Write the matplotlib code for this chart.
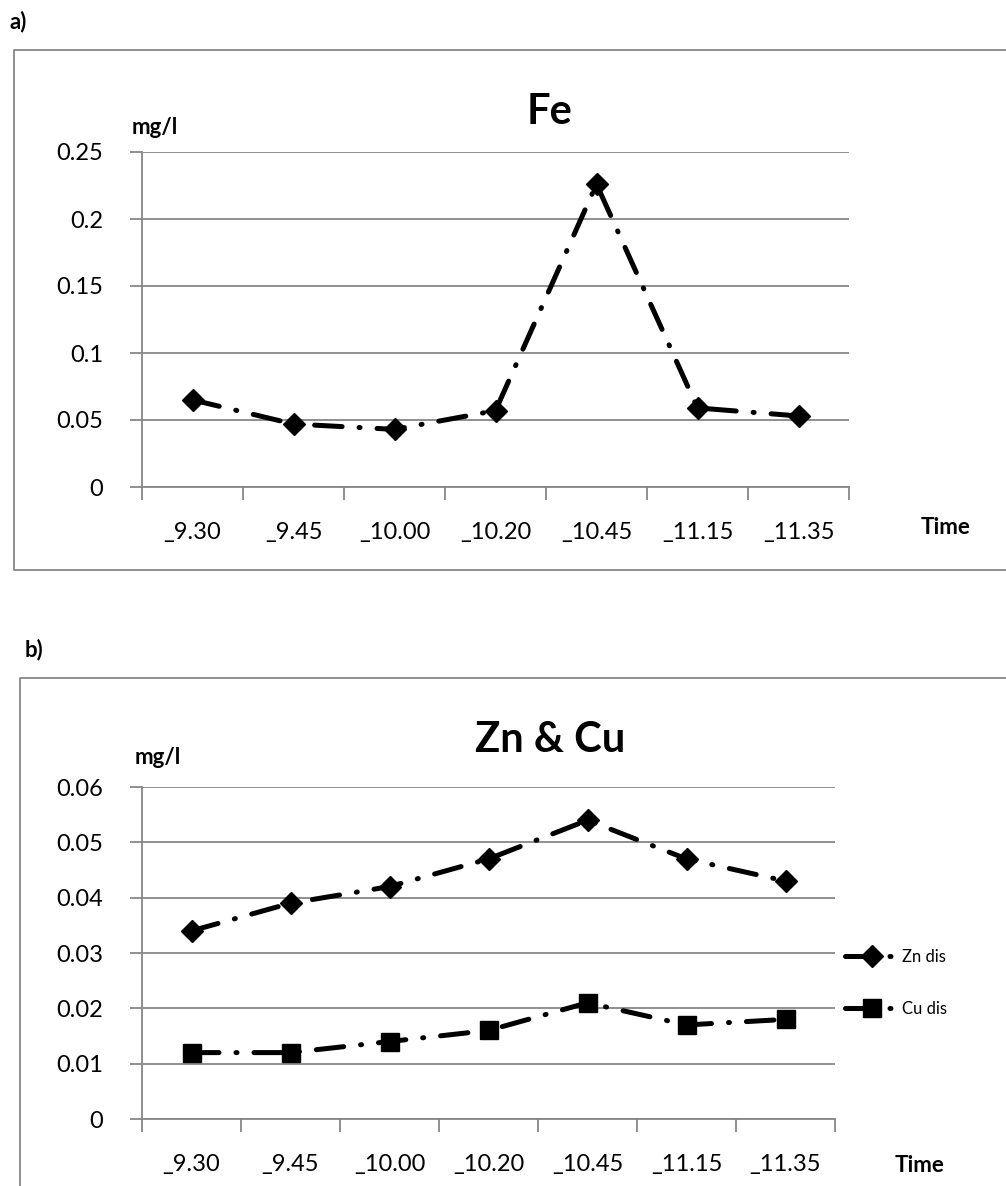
import matplotlib
matplotlib.use("Agg")
from matplotlib import pyplot as plt
from matplotlib.lines import Line2D
import numpy as np

times = ["_9.30", "_9.45", "_10.00", "_10.20", "_10.45", "_11.15", "_11.35"]
fe = [0.065, 0.047, 0.043, 0.057, 0.226, 0.059, 0.053]
zn_dis = [0.034, 0.039, 0.042, 0.047, 0.054, 0.047, 0.043]
cu_dis = [0.012, 0.012, 0.014, 0.016, 0.021, 0.017, 0.018]

W, H = 1006, 1186
GREY = "#878787"
plt.rcParams["font.family"] = ["Lato", "DejaVu Sans"]

fig = plt.figure(figsize=(W / 100, H / 100), dpi=100)


def px_axes(x0, x1, y_top, y_bot):
    return fig.add_axes([x0 / W, 1 - y_bot / H, (x1 - x0) / W, (y_bot - y_top) / H])


def frame_line(xs, ys):
    fig.add_artist(Line2D([x / W for x in xs], [1 - y / H for y in ys],
                          color=GREY, lw=1.3, transform=fig.transFigure))


dashdot = (0, (5.5, 3.4, 0.2, 3.4))


def style_axes(ax, ymax, ystep):
    n = len(times)
    ax.set_xlim(-0.5, n - 0.5)
    ax.set_ylim(0, ymax)
    yt = np.arange(0, ymax + ystep / 2, ystep)
    ax.set_yticks(yt)
    ax.set_yticklabels(["%g" % round(v, 4) for v in yt])
    ax.set_xticks(range(n))
    ax.set_xticklabels(times)
    ax.set_xticks(np.arange(-0.5, n), minor=True)
    ax.tick_params(axis="x", which="major", length=0, pad=25, labelsize=17)
    ax.tick_params(axis="x", which="minor", length=9, width=1.3, color=GREY, direction="out")
    ax.tick_params(axis="y", length=9, width=1.3, color=GREY, pad=19, labelsize=17)
    ax.grid(axis="y", color=GREY, lw=1.3)
    ax.set_axisbelow(True)
    for s in ("top", "right"):
        ax.spines[s].set_visible(False)
    for s in ("left", "bottom"):
        ax.spines[s].set_color(GREY)
        ax.spines[s].set_linewidth(1.3)


def draw_series(ax, y, marker, size, label=None):
    ax.plot(np.arange(len(times)), y, color="black", lw=3.6, linestyle=dashdot,
            dash_capstyle="round", marker=marker, markersize=size, clip_on=False,
            label=label)


# a) Fe
frame_line([W + 5, 14, 14, W + 5], [50, 50, 570, 570])
ax1 = px_axes(142, 849, 152, 487)
style_axes(ax1, 0.25, 0.05)
draw_series(ax1, fe, "D", 11)
fig.text(10 / W, 1 - 22 / H, "a)", fontsize=16, fontweight="bold", va="center")
fig.text(550 / W, 1 - 112 / H, "Fe", fontsize=30, fontweight="bold", ha="center", va="center")
fig.text(155 / W, 1 - 127 / H, "mg/l", fontsize=16, fontweight="bold", ha="center", va="center")
fig.text(946 / W, 1 - 527 / H, "Time", fontsize=16, fontweight="bold", ha="center", va="center")

# b) Zn & Cu
frame_line([W + 5, 20, 20], [678, 678, H + 5])
ax2 = px_axes(142, 835, 787, 1119)
style_axes(ax2, 0.06, 0.01)
draw_series(ax2, zn_dis, "D", 11, "Zn dis")
draw_series(ax2, cu_dis, "s", 13, "Cu dis")
ax2.legend(loc="center left", bbox_to_anchor=(1.0, 0.41), frameon=False, fontsize=12,
           handlelength=3.2, handletextpad=0.2, labelspacing=2.2, borderaxespad=0.2)
fig.text(25 / W, 1 - 650 / H, "b)", fontsize=16, fontweight="bold", va="center")
fig.text(550 / W, 1 - 740 / H, "Zn & Cu", fontsize=30, fontweight="bold", ha="center", va="center")
fig.text(158 / W, 1 - 757 / H, "mg/l", fontsize=16, fontweight="bold", ha="center", va="center")
fig.text(920 / W, 1 - 1166 / H, "Time", fontsize=16, fontweight="bold", ha="center", va="center")

fig.savefig("out.png", dpi=100)
